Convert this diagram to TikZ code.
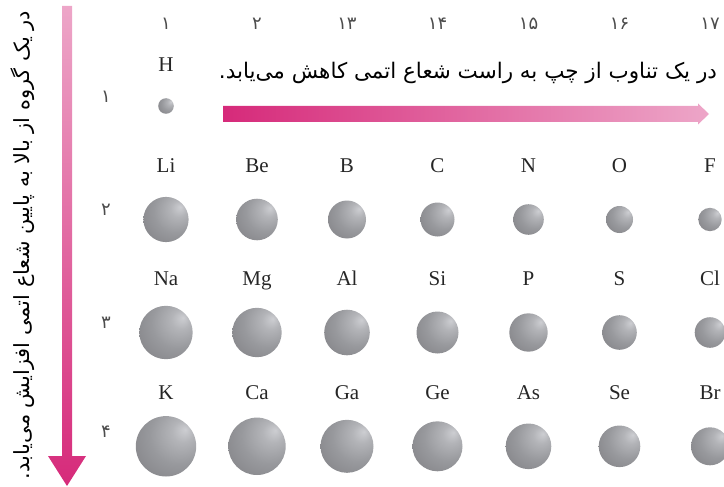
\documentclass[tikz,border=0pt]{standalone}
\usepackage{fontspec}
\usepackage{graphicx}
\setmainfont{Liberation Serif}
\newfontfamily\fa[Script=Arabic]{DejaVu Sans}
\TeXXeTstate=1
\definecolor{sA}{HTML}{CDCED2}
\definecolor{sB}{HTML}{B3B4B8}
\definecolor{sC}{HTML}{98999D}
\definecolor{sD}{HTML}{858589}
\definecolor{sE}{HTML}{737376}
\definecolor{mag}{HTML}{D62A7A}
\definecolor{pinkl}{HTML}{EDA6C8}
\pgfdeclareradialshading{sphereshade}{\pgfpoint{16bp}{14bp}}{color(0bp)=(sA); color(9bp)=(sB); color(24bp)=(sC); color(40bp)=(sD); color(56bp)=(sE); color(70bp)=(sE)}
\tikzset{
  ball/.style={circle, inner sep=0pt, draw=none, shade, shading=sphereshade},
  elem/.style={anchor=base, font=\fontsize{21}{21}\selectfont, text=black!85},
  grp/.style={anchor=base, font=\fa\fontsize{18}{18}\selectfont, text=black!70},
  per/.style={anchor=center, font=\fa\fontsize{18}{18}\selectfont, text=black!70}
}
\begin{document}
\begin{tikzpicture}[x=1pt,y=-1pt]
\useasboundingbox (0,0) rectangle (724,487);
% group numbers
\node[grp] (g1)  at (166,30) {۱};
\node[grp] (g2)  at (257,30) {۲};
\node[grp] (g13) at (347,30) {۱۳};
\node[grp] (g14) at (437.5,30) {۱۴};
\node[grp] (g15) at (528.5,30) {۱۵};
\node[grp] (g16) at (619.5,30) {۱۶};
\node[grp] (g17) at (710,30) {۱۷};
% period numbers
\node[per] (p1) at (106,97) {۱};
\node[per] (p2) at (106,210) {۲};
\node[per] (p3) at (106,323) {۳};
\node[per] (p4) at (106,432) {۴};
% arrows
\shade[left color=mag, right color=pinkl] (223,106) -- (698,106) -- (698,103.5) -- (709,114) -- (698,124.5) -- (698,122) -- (223,122) -- cycle;
\shade[top color=pinkl, bottom color=mag] (62,6) -- (72,6) -- (72,456) -- (86,456) -- (67,486) -- (48,456) -- (62,456) -- cycle;
% arrow texts
\node (htext) at (468,73) {\resizebox{498pt}{!}{\fa\beginR در یک تناوب از چپ به راست شعاع اتمی کاهش می‌یابد.\endR}};
\node[rotate=90] (vtext) at (23,245) {\resizebox{468pt}{!}{\fa\beginR در یک گروه از بالا به پایین شعاع اتمی افزایش می‌یابد.\endR}};
% row 1
\node[elem] (lH) at (166,72) {H};
\node[ball, minimum size=15.6pt] (H) at (166,106) {};
% row 2
\node[elem] (lLi) at (166,172) {Li};
\node[elem] (lBe) at (257,172) {Be};
\node[elem] (lB)  at (347,172) {B};
\node[elem] (lC)  at (437.5,172) {C};
\node[elem] (lN)  at (528.5,172) {N};
\node[elem] (lO)  at (619.5,172) {O};
\node[elem] (lF)  at (710,172) {F};
\node[ball, minimum size=45.2pt] (Li) at (166,219.5) {};
\node[ball, minimum size=41.6pt] (Be) at (257,219.5) {};
\node[ball, minimum size=38pt]   (B)  at (347,219.5) {};
\node[ball, minimum size=34pt]   (C)  at (437.5,219.5) {};
\node[ball, minimum size=30.6pt] (N)  at (528.5,219.5) {};
\node[ball, minimum size=27pt]   (O)  at (619.5,219.5) {};
\node[ball, minimum size=23.4pt] (F)  at (710,219.5) {};
% row 3
\node[elem] (lNa) at (166,285.5) {Na};
\node[elem] (lMg) at (257,285.5) {Mg};
\node[elem] (lAl) at (347,285.5) {Al};
\node[elem] (lSi) at (437.5,285.5) {Si};
\node[elem] (lP)  at (528.5,285.5) {P};
\node[elem] (lS)  at (619.5,285.5) {S};
\node[elem] (lCl) at (710,285.5) {Cl};
\node[ball, minimum size=53.4pt] (Na) at (166,332.5) {};
\node[ball, minimum size=49.4pt] (Mg) at (257,332.5) {};
\node[ball, minimum size=45.6pt] (Al) at (347,332.5) {};
\node[ball, minimum size=42pt]   (Si) at (437.5,332.5) {};
\node[ball, minimum size=38.4pt] (P)  at (528.5,332.5) {};
\node[ball, minimum size=34.6pt] (S)  at (619.5,332.5) {};
\node[ball, minimum size=30.6pt] (Cl) at (710,332.5) {};
% row 4
\node[elem] (lK)  at (166,399) {K};
\node[elem] (lCa) at (257,399) {Ca};
\node[elem] (lGa) at (347,399) {Ga};
\node[elem] (lGe) at (437.5,399) {Ge};
\node[elem] (lAs) at (528.5,399) {As};
\node[elem] (lSe) at (619.5,399) {Se};
\node[elem] (lBr) at (710,399) {Br};
\node[ball, minimum size=60.4pt] (K)  at (166,446.3) {};
\node[ball, minimum size=57.4pt] (Ca) at (257,446.3) {};
\node[ball, minimum size=53pt]   (Ga) at (347,446.3) {};
\node[ball, minimum size=50pt]   (Ge) at (437.5,446.3) {};
\node[ball, minimum size=45.6pt] (As) at (528.5,446.3) {};
\node[ball, minimum size=41.6pt] (Se) at (619.5,446.3) {};
\node[ball, minimum size=38pt]   (Br) at (710,446.3) {};
\end{tikzpicture}
\end{document}
